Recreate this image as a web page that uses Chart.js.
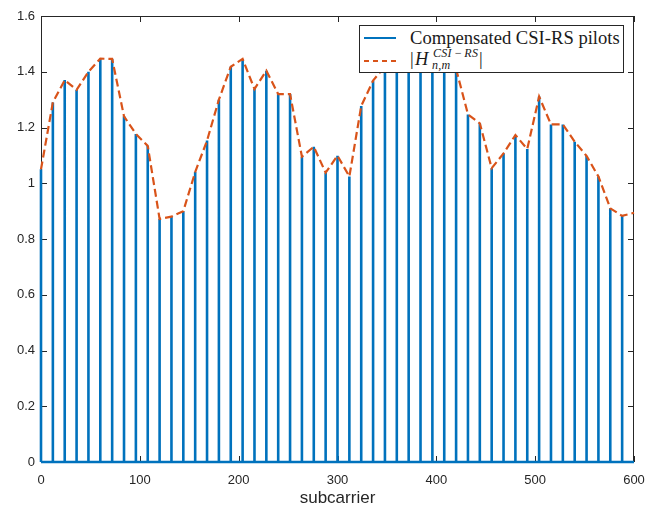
<!DOCTYPE html>
<html lang="en">
<head>
<meta charset="UTF-8">
<title>pilots</title>
<style>
  body { margin: 0; background: #fff; }
  #wrap { position: relative; width: 646px; height: 512px; }
  #legend {
    position: absolute; left: 359px; top: 25px; width: 263px; height: 46px;
    background: #fff; border: 1px solid #262626;
    font-family: "Liberation Serif", "DejaVu Serif", serif; color: #1a1a1a;
  }
  #legend span, #legend svg { position: absolute; white-space: nowrap; }
  .lab1 { font-size: 18.6px; line-height: 18.6px; left: 50px; top: 3px; }
  .m { font-style: italic; }
  .big { font-size: 18.5px; line-height: 18.5px; top: 23.5px; }
  .small { font-size: 12px; line-height: 12px; letter-spacing: 0.3px; }
</style>
</head>
<body>
<div id="wrap">
  <canvas id="myChart" width="646" height="512"></canvas>
  <div id="legend">
    <svg style="left:4px; top:9px" width="32" height="6"><line x1="0" y1="3" x2="32" y2="3" stroke="#0072BD" stroke-width="2"/></svg>
    <span class="lab1">Compensated CSI-RS pilots</span>
    <svg style="left:4px; top:32px" width="32" height="6"><line x1="0" y1="3" x2="32" y2="3" stroke="#D95319" stroke-width="2" stroke-dasharray="5,4"/></svg>
    <span class="big" style="left:50px">|</span>
    <span class="big m" style="left:55px">H</span>
    <span class="small m" style="left:73px; top:21px">CSI<span style="position:static; margin:0 2px">&minus;</span>RS</span>
    <span class="small m" style="left:72px; top:32.5px">n,m</span>
    <span class="big" style="left:119px">|</span>
  </div>
</div>

<script src="https://cdn.jsdelivr.net/npm/chart.js"></script>
<script>
// pilot positions (every 12th subcarrier) and compensated magnitudes
const pilotX = [0, 12, 24, 36, 48, 60, 72, 84, 96, 108,
  120, 132, 144, 156, 168, 180, 192, 204, 216, 228,
  240, 252, 264, 276, 288, 300, 312, 324, 336, 348,
  360, 372, 384, 396, 408, 420, 432, 444, 456, 468,
  480, 492, 504, 516, 528, 540, 552, 564, 576, 588]
const pilotY = [1.05, 1.29, 1.37, 1.335, 1.40, 1.447, 1.446, 1.24, 1.177, 1.134,
  0.872, 0.88, 0.90, 1.04, 1.153, 1.30, 1.418, 1.446, 1.338, 1.404,
  1.32, 1.32, 1.095, 1.131, 1.038, 1.099, 1.024, 1.277, 1.368, 1.42,
  1.46, 1.49, 1.50, 1.48, 1.45, 1.41, 1.247, 1.215, 1.054, 1.107,
  1.173, 1.123, 1.311, 1.211, 1.211, 1.149, 1.098, 1.024, 0.91, 0.883]
// true channel magnitude, same grid plus the last subcarrier
const chanX = pilotX.concat([600])
const chanY = pilotY.concat([0.894])

const xTicks = [0, 100, 200, 300, 400, 500, 600]
const yTicks = [0, 0.2, 0.4, 0.6, 0.8, 1, 1.2, 1.4, 1.6]

const axisColor = '#262626'

// stems: one vertical segment per pilot, broken by a null point
const stemData = []
pilotX.forEach((v, i) => {
  stemData.push({x: v, y: 0}, {x: v, y: pilotY[i]}, {x: v, y: null})
})

// MATLAB style box with inward ticks on all four sides
const boxAxes = {
  id: 'boxAxes',
  beforeDatasetsDraw(chart) {
    const {ctx, chartArea: a, scales: {x, y}} = chart
    ctx.save()
    ctx.strokeStyle = axisColor
    ctx.lineWidth = 1
    ctx.strokeRect(a.left + 0.5, a.top + 0.5, a.right - a.left - 1, a.bottom - a.top - 1)
    ctx.beginPath()
    xTicks.forEach(v => {
      const px = Math.round(x.getPixelForValue(v)) + 0.5
      ctx.moveTo(px, a.bottom); ctx.lineTo(px, a.bottom - 6)
      ctx.moveTo(px, a.top); ctx.lineTo(px, a.top + 6)
    })
    yTicks.forEach(v => {
      const py = Math.round(y.getPixelForValue(v)) + 0.5
      ctx.moveTo(a.left, py); ctx.lineTo(a.left + 6, py)
      ctx.moveTo(a.right, py); ctx.lineTo(a.right - 6, py)
    })
    ctx.stroke()
    ctx.restore()
  }
}

const tickFont = {family: '"Liberation Sans", Arial, sans-serif', size: 13}

new Chart(document.getElementById('myChart'), {
  type: 'line',
  data: {
    datasets: [
      {
        label: 'channel',
        data: chanX.map((v, i) => ({x: v, y: chanY[i]})),
        borderColor: '#D95319',
        borderWidth: 2.2,
        borderDash: [8, 4],
        pointRadius: 0,
        tension: 0,
        order: 0
      },
      {
        label: 'baseline',
        data: [{x: 0, y: 0}, {x: 600, y: 0}],
        borderColor: '#0072BD',
        borderWidth: 2.5,
        pointRadius: 0,
        order: 1
      },
      {
        label: 'pilots',
        data: stemData,
        borderColor: '#0072BD',
        borderWidth: 2.6,
        borderCapStyle: 'butt',
        pointRadius: 0,
        spanGaps: false,
        order: 2
      }
    ]
  },
  options: {
    responsive: false,
    animation: false,
    clip: false,
    layout: {padding: {top: 16, right: 12, left: 0, bottom: 0}},
    plugins: {legend: {display: false}, tooltip: {enabled: false}},
    scales: {
      x: {
        type: 'linear', min: 0, max: 600,
        grid: {display: false, drawTicks: false},
        border: {display: false},
        afterBuildTicks: s => { s.ticks = xTicks.map(v => ({value: v})) },
        ticks: {color: axisColor, font: tickFont, padding: 11, maxRotation: 0},
        title: {display: true, text: 'subcarrier', color: axisColor,
          font: {family: '"Liberation Sans", Arial, sans-serif', size: 17}, padding: {top: 0, bottom: 3}},
        afterFit: s => { s.height = 50; s.paddingLeft = 0; s.paddingRight = 0 }
      },
      y: {
        min: 0, max: 1.6,
        grid: {display: false, drawTicks: false},
        border: {display: false},
        afterBuildTicks: s => { s.ticks = yTicks.map(v => ({value: v})) },
        ticks: {color: axisColor, font: tickFont, padding: 6,
          callback: v => String(+v.toFixed(1))},
        afterFit: s => { s.width = 41; s.paddingTop = 0; s.paddingBottom = 0 }
      }
    }
  },
  plugins: [boxAxes]
})
</script>
</body>
</html>
